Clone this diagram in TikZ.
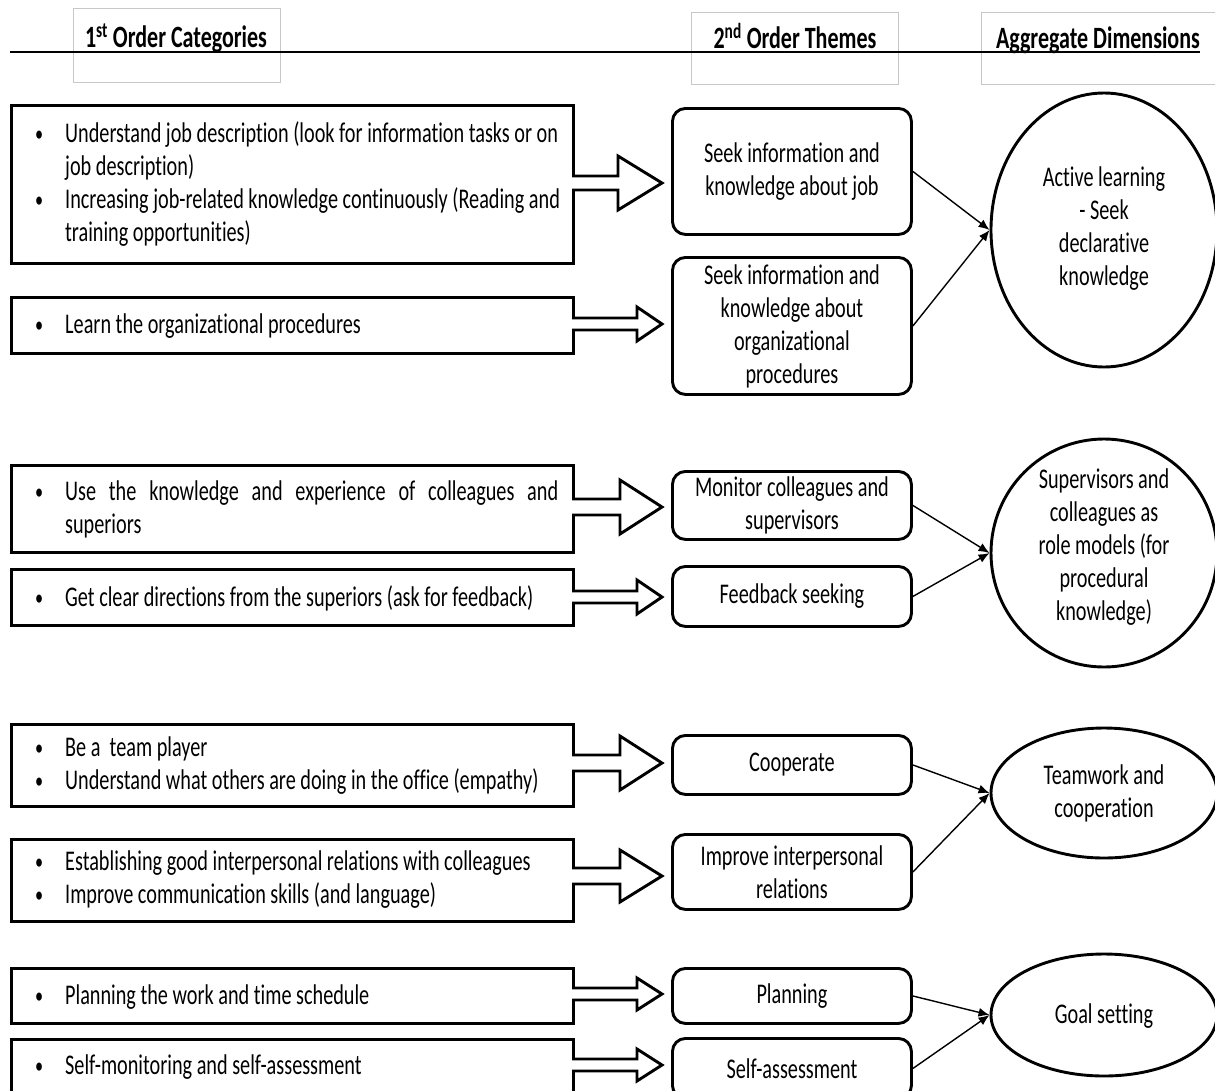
\documentclass[tikz,border=0pt]{standalone}
\usepackage{fontspec}
\setmainfont{Carlito}[FakeStretch=0.71, Ligatures=CommonOff]
\usetikzlibrary{arrows.meta,shapes.geometric}

\tikzset{
  txt/.style={font=\fontsize{28.5}{33}\selectfont, inner sep=0pt},
  htxt/.style={font=\fontsize{31}{33}\selectfont\bfseries, inner sep=0pt, anchor=base},
  lbox/.style={draw, line width=2.9pt, inner sep=0pt, minimum width=562pt, anchor=north west},
  mbox/.style={draw, line width=2.9pt, rounded corners=13pt, inner sep=0pt, minimum width=239pt,
               anchor=north west, align=center, font=\fontsize{28.5}{33}\selectfont},
  agg/.style={draw, ellipse, line width=2.9pt, inner sep=0pt, minimum width=226pt},
  hbox/.style={draw=black!22, line width=0.8pt, inner sep=0pt, anchor=north west},
  link/.style={line width=1.4pt, -{Latex[length=11pt,width=9pt]}},
  barrow/.style={draw, line width=2.9pt, fill=white, line join=miter},
}

\newcommand\barr[4]{% y, shaft half, head half, head base x
  \fill[white] (569,#1-#2+1.5) rectangle (575,#1+#2-1.5);
  \draw[barrow] (572,#1-#2) -- (#4,#1-#2) -- (#4,#1-#3) -- (662,#1) -- (#4,#1+#3) -- (#4,#1+#2) -- (572,#1+#2);
}
\newcommand\bul{\raisebox{1pt}{\scalebox{0.8}{\textbullet}}}

\begin{document}
\begin{tikzpicture}[x=1pt,y=-1pt]
\clip (0,0) rectangle (1215,1090);
\fill[white] (0,0) rectangle (1215,1090);

% header
\node[hbox, minimum width=207pt, minimum height=74pt] (H1) at (73,8) {};
\node[hbox, minimum width=207pt, minimum height=72pt] (H2) at (691,12) {};
\node[hbox, minimum width=250pt, minimum height=72pt] (H3) at (981,12) {};
\node[htxt] (H1t) at (176,47) {1\textsuperscript{st} Order Categories};
\node[htxt] (H2t) at (795,48) {2\textsuperscript{nd} Order Themes};
\node[htxt] (H3t) at (1098,48) {Aggregate Dimensions};
\draw[line width=1.5pt] (10,52) -- (1200,52);

% left boxes
\node[lbox, minimum height=158pt] (L1) at (10,104) {};
\node[lbox, minimum height=56pt]  (L2) at (10,296) {};
\node[lbox, minimum height=87pt]  (L3) at (10,464) {};
\node[lbox, minimum height=56pt]  (L4) at (10,568) {};
\node[lbox, minimum height=82pt]  (L5) at (10,723) {};
\node[lbox, minimum height=82pt]  (L6) at (10,838) {};
\node[lbox, minimum height=55pt]  (L7) at (10,967) {};
\node[lbox, minimum height=60pt]  (L8) at (10,1038) {};

\node[txt, anchor=west] (T1) at (35,185.5) {\begin{tabular}{@{}p{30pt}@{}l@{}}
\bul & Understand job description (look for information tasks or on\\
     & job description)\\
\bul & Increasing job-related knowledge continuously (Reading and\\
     & training opportunities)\end{tabular}};
\node[txt, anchor=west] (T2) at (35,327) {\begin{tabular}{@{}p{30pt}@{}l@{}}
\bul & Learn the organizational procedures\end{tabular}};
\node[txt, anchor=west] (T3) at (35,510.5) {\begin{tabular}{@{}p{30pt}@{}l@{}}
\bul & \makebox[493pt][s]{Use the knowledge and experience of colleagues and}\\
     & superiors\end{tabular}};
\node[txt, anchor=west] (T4) at (35,600) {\begin{tabular}{@{}p{30pt}@{}l@{}}
\bul & Get clear directions from the superiors (ask for feedback)\end{tabular}};
\node[txt, anchor=west] (T5) at (35,766) {\begin{tabular}{@{}p{30pt}@{}l@{}}
\bul & Be a\ \ team player\\
\bul & Understand what others are doing in the office (empathy)\end{tabular}};
\node[txt, anchor=west] (T6) at (35,880.5) {\begin{tabular}{@{}p{30pt}@{}l@{}}
\bul & Establishing good interpersonal relations with colleagues\\
\bul & Improve communication skills (and language)\end{tabular}};
\node[txt, anchor=west] (T7) at (35,998) {\begin{tabular}{@{}p{30pt}@{}l@{}}
\bul & Planning the work and time schedule\end{tabular}};
\node[txt, anchor=west] (T8) at (35,1068) {\begin{tabular}{@{}p{30pt}@{}l@{}}
\bul & Self-monitoring and self-assessment\end{tabular}};

% block arrows
\barr{183}{7}{27}{618}
\barr{324}{6}{17}{637}
\barr{507}{8}{27}{620}
\barr{597}{6}{17}{637}
\barr{763}{8}{27}{620}
\barr{876}{8}{26}{620}
\barr{994}{6}{16}{637}
\barr{1065}{6}{16}{637}

% second-order themes
\node[mbox, minimum height=126pt] (M1) at (671,107) {Seek information and\\knowledge about job};
\node[mbox, minimum height=137pt] (M2) at (671,256) {Seek information and\\knowledge about\\organizational\\procedures};
\node[mbox, minimum height=68pt]  (M3) at (671,470) {Monitor colleagues and\\supervisors};
\node[mbox, minimum height=60pt]  (M4) at (671,565) {Feedback seeking};
\node[mbox, minimum height=59pt]  (M5) at (671,734) {Cooperate};
\node[mbox, minimum height=75pt]  (M6) at (671,833) {Improve interpersonal\\relations};
\node[mbox, minimum height=55pt]  (M7) at (671,967) {Planning};
\node[mbox, minimum height=60pt]  (M8) at (671,1037) {Self-assessment};

% aggregate dimensions
\node[agg, minimum height=274pt] (C1) at (1104,230) {};
\node[agg, minimum height=228pt] (C2) at (1104,553) {};
\node[agg, minimum height=130pt] (C3) at (1104,793) {};
\node[agg, minimum height=122pt] (C4) at (1104,1015) {};
\node[txt, align=center] (C1t) at (1104,228.5) {Active learning\\- Seek\\declarative\\knowledge};
\node[txt, align=center] (C2t) at (1104,547) {Supervisors and\\colleagues as\\role models (for\\procedural\\knowledge)};
\node[txt, align=center] (C3t) at (1104,793) {Teamwork and\\cooperation};
\node[txt, align=center] (C4t) at (1104,1016) {Goal setting};

% links
\draw[link] (M1.east) -- (C1.west);
\draw[link] (M2.east) -- (C1.west);
\draw[link] (M3.east) -- (C2.west);
\draw[link] (M4.east) -- (C2.west);
\draw[link] (M5.east) -- (C3.west);
\draw[link] (M6.east) -- (C3.west);
\draw[link] (M7.east) -- (C4.west);
\draw[link] (M8.east) -- (C4.west);
\end{tikzpicture}
\end{document}
